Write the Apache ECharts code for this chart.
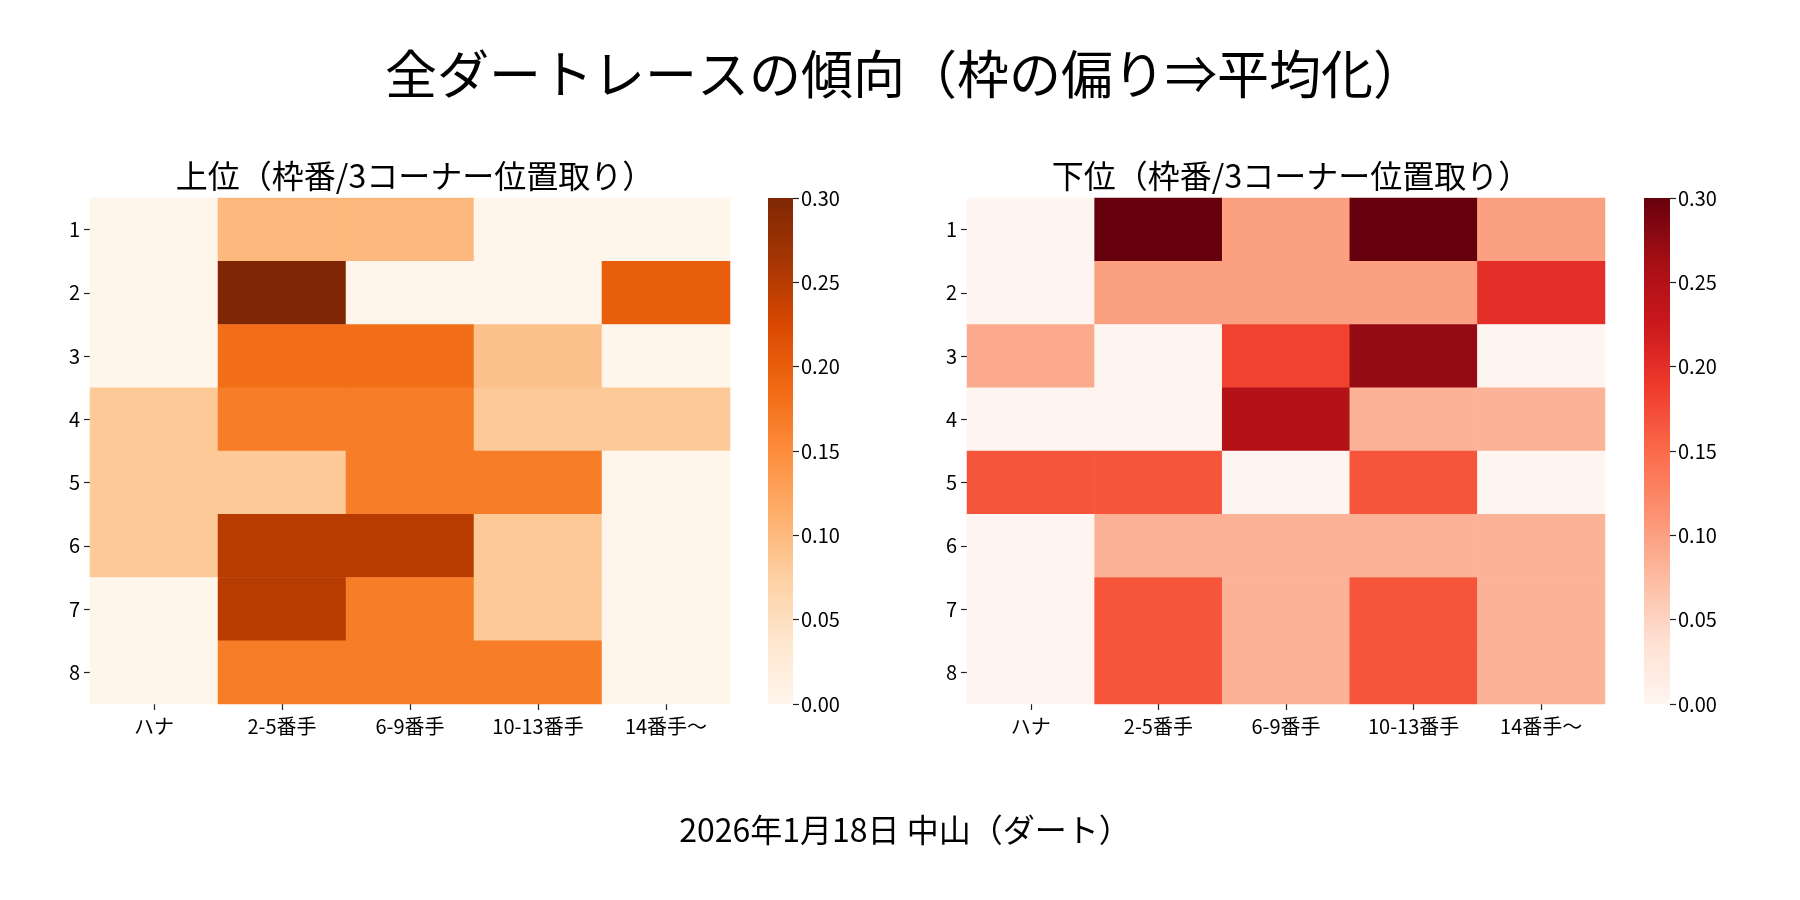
<!DOCTYPE html>
<html>
<head>
<meta charset="utf-8">
<script src="https://cdn.jsdelivr.net/npm/echarts@6/dist/echarts.min.js"></script>
<style>
html, body { margin: 0; padding: 0; background: #fff; }
#chart { width: 1800px; height: 900px; }
</style>
</head>
<body>
<div id="chart"></div>
<script>
// 枠番 (行) と 3コーナー位置取り (列)
const waku = ['1', '2', '3', '4', '5', '6', '7', '8'];
const ichidori = ['ハナ', '2-5番手', '6-9番手', '10-13番手', '14番手～'];

// 上位 (行 = 枠番, 列 = 位置取り)
const joui = [
    [0,     0.1,   0.1,   0,     0],
    [0,     0.3,   0,     0,     0.2],
    [0,     0.182, 0.182, 0.091, 0],
    [0.083, 0.167, 0.167, 0.083, 0.083],
    [0.083, 0.083, 0.167, 0.167, 0],
    [0.083, 0.25,  0.25,  0.083, 0],
    [0,     0.25,  0.167, 0.083, 0],
    [0,     0.167, 0.167, 0.167, 0]
];

// 下位
const kai = [
    [0,     0.3,   0.1,   0.3,   0.1],
    [0,     0.1,   0.1,   0.1,   0.2],
    [0.091, 0,     0.182, 0.273, 0],
    [0,     0,     0.25,  0.083, 0.083],
    [0.167, 0.167, 0,     0.167, 0],
    [0,     0.083, 0.083, 0.083, 0.083],
    [0,     0.167, 0.083, 0.167, 0.083],
    [0,     0.167, 0.083, 0.167, 0.083]
];

const vMin = 0;
const vMax = 0.3;
const vStep = 0.05;

// matplotlib Oranges / Reds
const oranges = ['#fff5eb', '#fee6ce', '#fdd0a2', '#fdae6b', '#fd8d3c', '#f16913', '#d94801', '#a63603', '#7f2704'];
const reds = ['#fff5f0', '#fee0d2', '#fcbba1', '#fc9272', '#fb6a4a', '#ef3b2c', '#cb181d', '#a50f15', '#67000d'];

const fuente = '"Noto Sans CJK JP", "Noto Sans", sans-serif';

const aTriples = (matriz) => {
    let datos = [];
    matriz.forEach((fila, y) => {
        fila.forEach((v, x) => datos.push([x, y, v]));
    });
    return datos;
};

const gradiente = (colores) => ({
    type: 'linear', x: 0, y: 0, x2: 0, y2: 1,
    colorStops: colores.slice().reverse().map((c, i) => ({ offset: i / (colores.length - 1), color: c }))
});

const ejeX = (gi) => ({
    type: 'category', gridIndex: gi, data: ichidori,
    axisLine: { show: false },
    axisTick: { show: true, alignWithLabel: true, length: 6, lineStyle: { color: '#222', width: 1.2 } },
    axisLabel: { color: '#000', fontSize: 20, fontFamily: fuente, margin: 12 },
    splitLine: { show: false }
});

const ejeY = (gi) => ({
    type: 'category', gridIndex: gi, data: waku, inverse: true,
    axisLine: { show: false },
    axisTick: { show: true, alignWithLabel: true, length: 6, lineStyle: { color: '#222', width: 1.2 } },
    axisLabel: { color: '#000', fontSize: 20, fontFamily: fuente, margin: 10 },
    splitLine: { show: false }
});

const ejeBarra = (gi) => ({
    type: 'value', gridIndex: gi, position: 'right', min: vMin, max: vMax, interval: vStep,
    axisLine: { show: false },
    axisTick: { show: true, length: 6, lineStyle: { color: '#222', width: 1.2 } },
    axisLabel: { color: '#000', fontSize: 20, fontFamily: fuente, margin: 8, formatter: v => v.toFixed(2) },
    splitLine: { show: false }
});

const ejeBarraX = (gi) => ({ type: 'category', gridIndex: gi, data: [''], show: false });

const chart = echarts.init(document.getElementById('chart'), null, { renderer: 'canvas' });

const opciones = {
    backgroundColor: '#fff',
    animation: false,
    textStyle: { fontFamily: fuente },
    title: [
        { text: '全ダートレースの傾向（枠の偏り⇒平均化）', left: 900, top: 43, textAlign: 'center',
          textStyle: { fontSize: 52, fontWeight: 'normal', color: '#000', fontFamily: fuente } },
        { text: '上位（枠番/3コーナー位置取り）', left: 410, top: 155, textAlign: 'center',
          textStyle: { fontSize: 32, fontWeight: 'normal', color: '#000', fontFamily: fuente } },
        { text: '下位（枠番/3コーナー位置取り）', left: 1286, top: 155, textAlign: 'center',
          textStyle: { fontSize: 32, fontWeight: 'normal', color: '#000', fontFamily: fuente } },
        { text: '2026年1月18日 中山（ダート）', left: 900, top: 809, textAlign: 'center',
          textStyle: { fontSize: 32, fontWeight: 'normal', color: '#000', fontFamily: fuente } }
    ],
    grid: [
        { left: 90, top: 198, width: 640, height: 506 },
        { left: 768, top: 198, width: 25, height: 506 },
        { left: 967, top: 198, width: 638, height: 506 },
        { left: 1644, top: 198, width: 26, height: 506 }
    ],
    xAxis: [ejeX(0), ejeBarraX(1), ejeX(2), ejeBarraX(3)],
    yAxis: [ejeY(0), ejeBarra(1), ejeY(2), ejeBarra(3)],
    visualMap: [
        { type: 'continuous', show: false, min: vMin, max: vMax, seriesIndex: 0, inRange: { color: oranges } },
        { type: 'continuous', show: false, min: vMin, max: vMax, seriesIndex: 2, inRange: { color: reds } }
    ],
    series: [
        { type: 'heatmap', xAxisIndex: 0, yAxisIndex: 0, data: aTriples(joui), silent: true,
          itemStyle: { borderWidth: 0 } },
        { type: 'bar', xAxisIndex: 1, yAxisIndex: 1, data: [vMax], barWidth: '100%', silent: true,
          itemStyle: { color: gradiente(oranges) } },
        { type: 'heatmap', xAxisIndex: 2, yAxisIndex: 2, data: aTriples(kai), silent: true,
          itemStyle: { borderWidth: 0 } },
        { type: 'bar', xAxisIndex: 3, yAxisIndex: 3, data: [vMax], barWidth: '100%', silent: true,
          itemStyle: { color: gradiente(reds) } }
    ]
};

chart.setOption(opciones);
</script>
</body>
</html>
